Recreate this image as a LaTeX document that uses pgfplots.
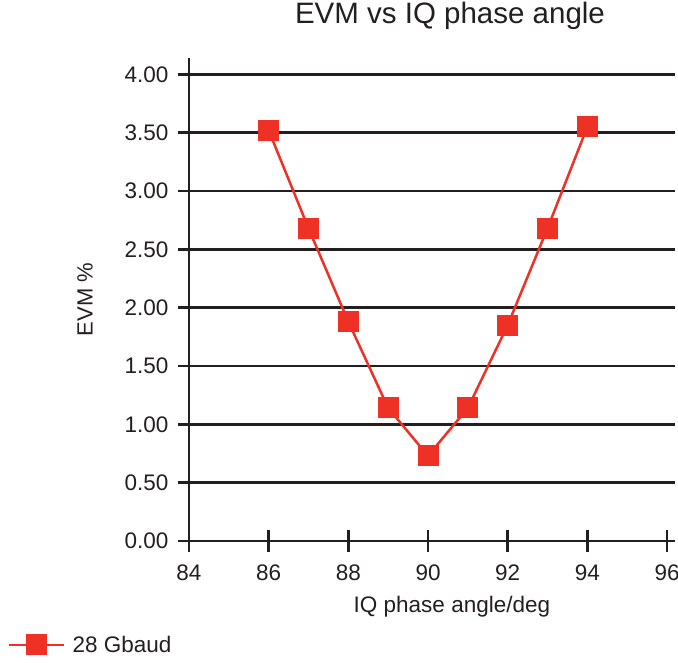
\documentclass[border=0pt]{standalone}
\usepackage{pgfplots}
\pgfplotsset{compat=1.18}
\usepackage{fontspec}
\setmainfont{Liberation Sans}
\definecolor{evmred}{HTML}{EE3124}
\definecolor{gridk}{HTML}{231F20}
\begin{document}
\begin{tikzpicture}
\useasboundingbox (0,0) rectangle (678pt,662pt);
\begin{axis}[
    at={(189pt,121pt)}, anchor=south west,
    scale only axis, width=486pt, height=483pt,
    xmin=84, xmax=96.2, ymin=0, ymax=4.14,
    xtick={84,86,...,96},
    ytick={0,0.5,...,4},
    axis lines*=left,
    axis line style={gridk, line width=2.5pt},
    ymajorgrids=true,
    grid style={gridk, line width=2.5pt},
    tick align=center,
    major tick length=22pt,
    tick style={gridk, line width=2.5pt},
    ytick style={/pgfplots/major tick length=11pt, xshift=-5.5pt},
    /pgf/number format/assume math mode=true,
    yticklabel style={/pgf/number format/fixed, /pgf/number format/fixed zerofill, /pgf/number format/precision=2, xshift=-6pt},
    ticklabel style={font=\fontsize{22.5}{26}\selectfont, text=gridk},
    xticklabel style={yshift=-9pt},
    title={EVM vs IQ phase angle},
    title style={at={(rel axis cs:0.537,1.0745)}, anchor=center, font=\fontsize{29.5}{34}\selectfont, text=gridk},
    xlabel={IQ phase angle/deg},
    xlabel style={at={(rel axis cs:0.541,-0.1366)}, anchor=center, font=\fontsize{22.5}{26}\selectfont, text=gridk},
    ylabel={EVM \%},
    ylabel style={at={(rel axis cs:-0.214,0.5)}, anchor=center, font=\fontsize{22}{26}\selectfont, text=gridk},
    legend style={at={(rel axis cs:-0.3724,-0.215)}, anchor=west, draw=none, fill=none, inner sep=0pt,
        font=\fontsize{22.5}{26}\selectfont, text=gridk},
    legend image code/.code={\draw[#1, mark repeat=2, mark phase=2] plot coordinates {(0pt,0pt) (27.5pt,0pt) (55pt,0pt)};},
    clip=false,
]
\addplot[evmred, line width=2.5pt, mark=square*, mark size=10pt, mark options={solid, fill=evmred, draw=evmred, line width=0pt}]
    coordinates {(86,3.52) (87,2.68) (88,1.88) (89,1.14) (90,0.73) (91,1.14) (92,1.85) (93,2.68) (94,3.55)};
\addlegendentry{\hspace{5pt}28 Gbaud}
\end{axis}
\end{tikzpicture}
\end{document}
